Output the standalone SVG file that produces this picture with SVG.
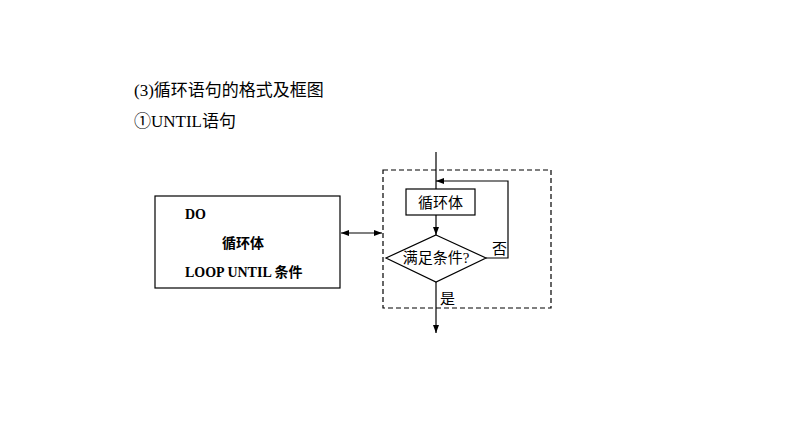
<svg xmlns="http://www.w3.org/2000/svg" width="794" height="447" viewBox="0 0 794 447">
<style>
text{font-family:"Liberation Serif","Noto Sans CJK SC",serif;fill:#000}
.t{font-size:17px}
.n{font-size:15px}
.b{font-size:14px;font-weight:bold}
.s{fill:none;stroke:#000;stroke-width:1.2}
</style>
<defs>
<marker id="a" markerWidth="8" markerHeight="6" refX="8" refY="3" orient="auto" markerUnits="userSpaceOnUse"><path d="M0,0L8,3L0,6z" fill="#000"/></marker>
<marker id="as" markerWidth="8" markerHeight="6" refX="0" refY="3" orient="auto" markerUnits="userSpaceOnUse"><path d="M8,0L0,3L8,6z" fill="#000"/></marker>
</defs>
<rect width="794" height="447" fill="#fff"/>
<text class="t" x="134" y="96">(3)循环语句的格式及框图</text>
<text class="t" x="134" y="127">①UNTIL语句</text>
<g id="code">
<rect class="s" x="155" y="196" width="185" height="92"/>
<text class="b" x="185" y="219">DO</text>
<text class="b" x="222" y="248">循环体</text>
<text class="b" x="185" y="277">LOOP UNTIL  条件</text>
</g>
<g id="frame"><rect x="383" y="170" width="168" height="138" fill="none" stroke="#000" stroke-width="1.2" stroke-dasharray="5,3"/></g>
<g id="body"><rect class="s" x="406" y="189" width="69" height="26"/><text class="n" x="440.5" y="208" text-anchor="middle">循环体</text></g>
<g id="cond"><path class="s" d="M436,235L486,258L436,282L386,258z"/><text class="n" x="436" y="263" text-anchor="middle">满足条件?</text></g>
<g id="connectors" class="s">
<line x1="341" y1="233" x2="382" y2="233" marker-start="url(#as)" marker-end="url(#a)"/>
<line x1="436" y1="152" x2="436" y2="189"/>
<line x1="436" y1="215" x2="436" y2="235" marker-end="url(#a)"/>
<polyline points="486,258 508,258 508,181 436,181" marker-end="url(#a)"/>
<line x1="436" y1="282" x2="436" y2="333" marker-end="url(#a)"/>
</g>
<text class="n" x="492" y="254">否</text>
<text class="n" x="440" y="304">是</text>
</svg>
